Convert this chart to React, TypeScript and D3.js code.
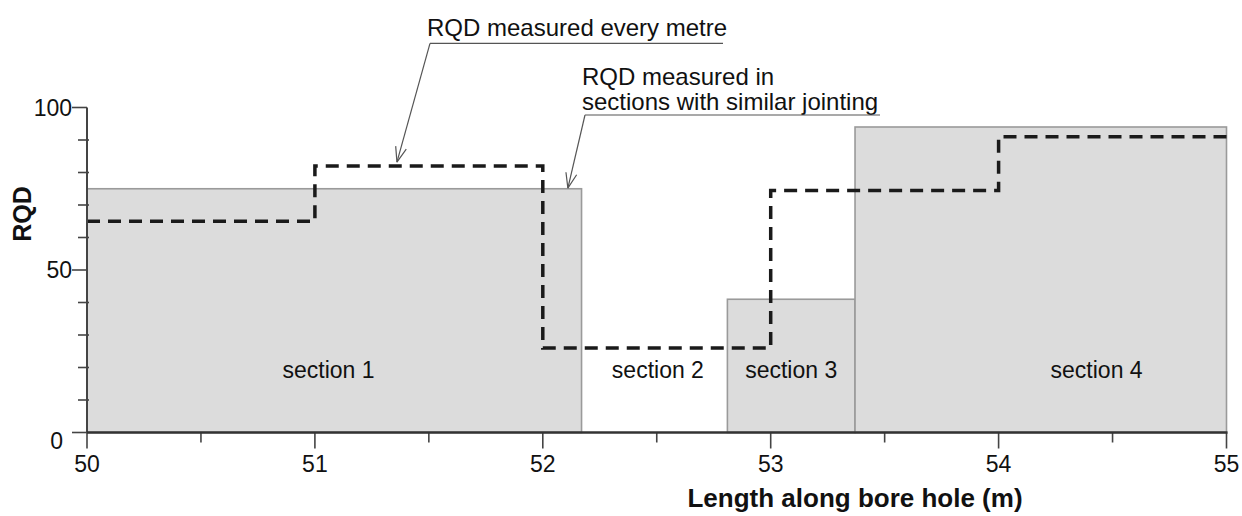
import React, { useEffect, useRef } from 'react'
import * as d3 from 'd3'

// RQD averaged over sections with similar jointing
const sectionNames = ['section 1', 'section 2', 'section 3', 'section 4']
const sectionFrom = [50, 52.17, 52.81, 53.37]
const sectionTo = [52.17, 52.81, 53.37, 55]
const sectionRqd = [75, 0, 41, 94]

// RQD measured every metre
const metreFrom = [50, 51, 52, 53, 54]
const metreRqd = [65, 82, 26, 74.5, 91]

const xTicks = [50, 50.5, 51, 51.5, 52, 52.5, 53, 53.5, 54, 54.5, 55]
const yTicks = [0, 10, 20, 30, 40, 50, 60, 70, 80, 90, 100]
const yLabels = [0, 50, 100]

const FONT = '"Liberation Sans", Arial, sans-serif'

function App() {
  const ref = useRef<SVGSVGElement>(null)

  useEffect(() => {
    const svg = d3.select(ref.current)
    svg.selectAll('*').remove()

    const x = d3.scaleLinear().domain([50, 55]).range([87, 1226.5])
    const y = d3.scaleLinear().domain([0, 100]).range([432.5, 107.5])

    // section bars
    const sections = sectionNames.map((name, i) => ({
      name, from: sectionFrom[i], to: sectionTo[i], rqd: sectionRqd[i]
    }))
    svg.append('g').selectAll('rect')
        .data(sections.filter(s => s.rqd > 0)).enter()
      .append('rect')
        .attr('x', s => x(s.from))
        .attr('y', s => y(s.rqd))
        .attr('width', s => x(s.to) - x(s.from))
        .attr('height', s => y(0) - y(s.rqd))
        .attr('fill', '#dcdcdc')
        .attr('stroke', '#9a9a9a')
        .attr('stroke-width', 1.6)

    // section labels (placed where the original puts them)
    const labelAt = [51.06, 52.505, 53.09, 54.43]
    svg.append('g').selectAll('text')
        .data(sections).enter()
      .append('text')
        .attr('x', (s, i) => x(labelAt[i]))
        .attr('y', y(16.8))
        .attr('text-anchor', 'middle')
        .attr('font-family', FONT)
        .attr('font-size', 23)
        .attr('fill', '#111')
        .text(s => s.name)

    // every-metre dashed step line
    const pts: [number, number][] = metreFrom.map((m, i) => [m, metreRqd[i]])
    pts.push([55, metreRqd[metreRqd.length - 1]])
    const line = d3.line<[number, number]>()
        .x(d => x(d[0]))
        .y(d => y(d[1]))
        .curve(d3.curveStepAfter)
    svg.append('path')
        .attr('d', line(pts))
        .attr('fill', 'none')
        .attr('stroke', '#1a1a1a')
        .attr('stroke-width', 3.5)
        .attr('stroke-dasharray', '13 8')

    // axes
    const axes = svg.append('g').attr('stroke', '#444')
    axes.append('line')
        .attr('x1', x(50)).attr('x2', x(50))
        .attr('y1', y(0)).attr('y2', y(100))
        .attr('stroke-width', 2)
    axes.selectAll('.yt')
        .data(yTicks).enter()
      .append('line')
        .attr('x1', t => yLabels.includes(t) ? x(50) - 15 : x(50) - 9)
        .attr('x2', t => yLabels.includes(t) ? x(50) : x(50) + 2)
        .attr('y1', t => y(t)).attr('y2', t => y(t))
        .attr('stroke-width', 1.6)
    axes.selectAll('.xt')
        .data(xTicks).enter()
      .append('line')
        .attr('x1', t => x(t)).attr('x2', t => x(t))
        .attr('y1', y(0))
        .attr('y2', t => Number.isInteger(t) ? y(0) + 16 : y(0) + 10)
        .attr('stroke-width', 1.6)
    axes.append('line')
        .attr('x1', x(50)).attr('x2', x(55) + 1)
        .attr('y1', y(0)).attr('y2', y(0))
        .attr('stroke', '#333')
        .attr('stroke-width', 2.6)

    svg.append('g').selectAll('text')
        .data(yLabels).enter()
      .append('text')
        .attr('x', t => t === 0 ? x(50) - 24 : x(50) - 15)
        .attr('y', t => t === 0 ? y(t) + 8 : y(t))
        .attr('dy', '0.36em')
        .attr('text-anchor', 'end')
        .attr('font-family', FONT)
        .attr('font-size', 23)
        .attr('fill', '#111')
        .text(t => t)

    svg.append('g').selectAll('text')
        .data(xTicks.filter(t => Number.isInteger(t))).enter()
      .append('text')
        .attr('x', t => x(t))
        .attr('y', 472)
        .attr('text-anchor', 'middle')
        .attr('font-family', FONT)
        .attr('font-size', 23)
        .attr('fill', '#111')
        .text(t => t)

    // axis titles
    svg.append('text')
        .attr('x', 855)
        .attr('y', 507)
        .attr('text-anchor', 'middle')
        .attr('font-family', FONT)
        .attr('font-weight', 'bold')
        .attr('font-size', 26)
        .attr('fill', '#111')
        .text('Length along bore hole (m)')
    svg.append('text')
        .attr('transform', 'translate(31, 214) rotate(-90)')
        .attr('text-anchor', 'middle')
        .attr('font-family', FONT)
        .attr('font-weight', 'bold')
        .attr('font-size', 25)
        .attr('fill', '#111')
        .text('RQD')

    // annotations with leader arrows
    const notes = [
      { lines: ['RQD measured every metre'], tx: 427, ty: 36, ux1: 430, ux2: 723, uy: 43.3, tip: [51.36, 83.2] },
      { lines: ['RQD measured in', 'sections with similar jointing'], tx: 582, ty: 85, ux1: 585, ux2: 880, uy: 115, tip: [52.11, 75.2] }
    ]
    notes.forEach(n => {
      const g = svg.append('g')
      n.lines.forEach((l, i) => {
        g.append('text')
            .attr('x', n.tx)
            .attr('y', n.ty + i * 25)
            .attr('font-family', FONT)
            .attr('font-size', 24)
            .attr('fill', '#111')
            .text(l)
      })
      g.append('line')
          .attr('x1', n.ux1).attr('x2', n.ux2)
          .attr('y1', n.uy).attr('y2', n.uy)
          .attr('stroke', '#555').attr('stroke-width', 1.2)
      const tx = x(n.tip[0]), ty = y(n.tip[1])
      g.append('line')
          .attr('x1', n.ux1).attr('y1', n.uy)
          .attr('x2', tx).attr('y2', ty)
          .attr('stroke', '#555').attr('stroke-width', 1.2)
      const ang = Math.atan2(n.uy - ty, n.ux1 - tx)
      const head = [ang - 0.35, ang + 0.35].map(a => `M${tx},${ty}L${tx + 16 * Math.cos(a)},${ty + 16 * Math.sin(a)}`)
      g.append('path')
          .attr('d', head.join(''))
          .attr('fill', 'none')
          .attr('stroke', '#555').attr('stroke-width', 1.2)
    })
  }, [])

  return (
    <svg ref={ref} width={1242} height={516}
      style={{ position: 'absolute', left: 0, top: 0, background: '#fff' }} />
  )
}

export default App
